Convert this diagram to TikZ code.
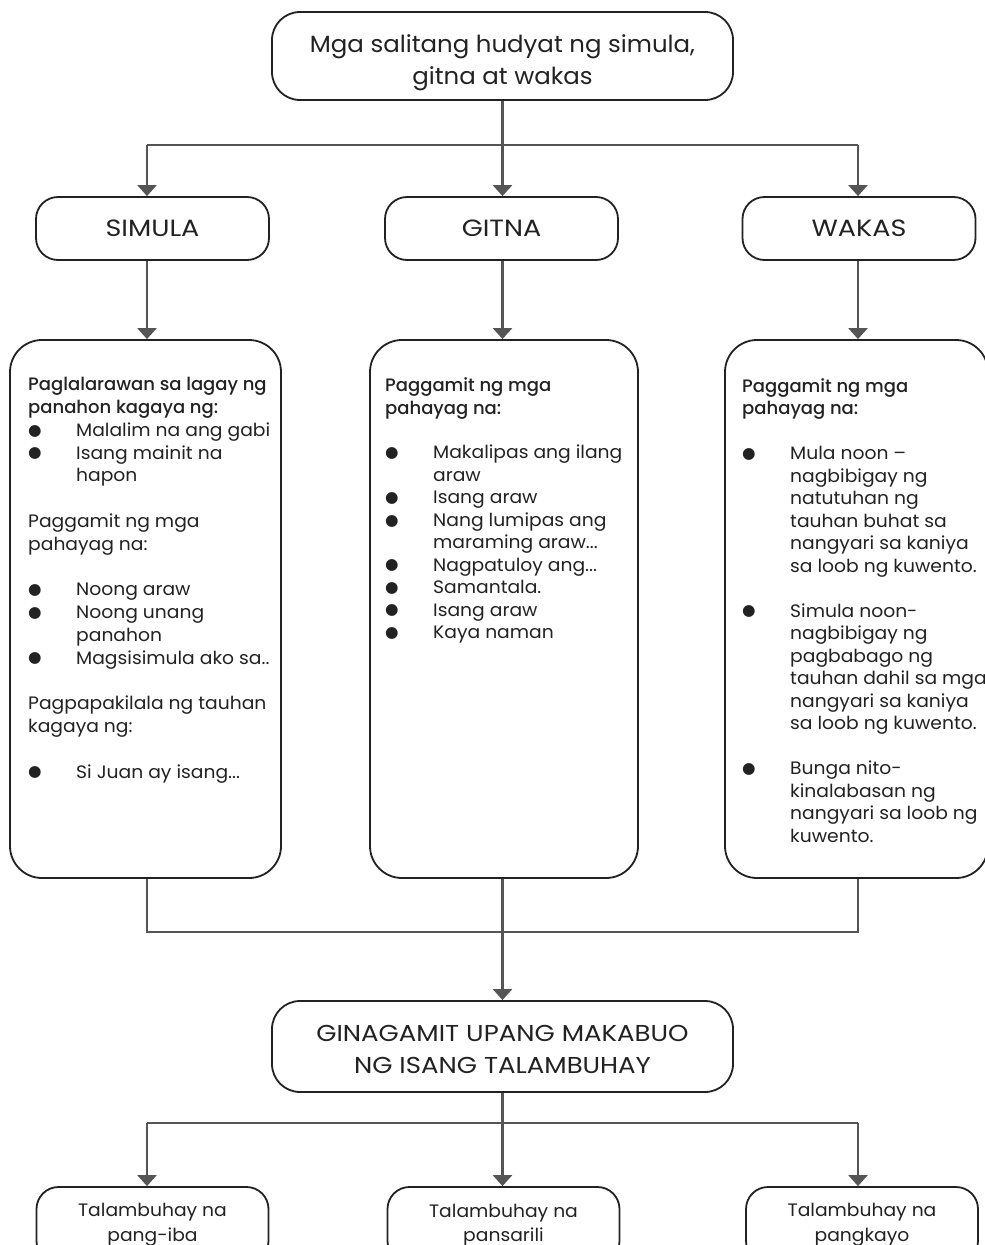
\documentclass[tikz,border=0pt]{standalone}
\usepackage{fontspec}
\setmainfont{Poppins}[FakeStretch=1.04]
\newfontfamily\medfont{Poppins Medium}[FakeStretch=1.0]
\newfontfamily\capfont{Poppins}[FakeStretch=1.15]
\newfontfamily\bulfont{DejaVu Sans}
\usetikzlibrary{arrows.meta}
\definecolor{linec}{HTML}{555555}
\definecolor{ink}{HTML}{222222}
\newcommand\bl{\makebox[48pt][l]{\raisebox{1.2pt}{\bulfont\fontsize{15.5}{15}\selectfont ●}}}
\newcommand\ind{\hspace*{48pt}}
\tikzset{
  box/.style={draw=ink, line width=1.8pt, rounded corners=#1, align=center, text=ink, inner sep=0pt},
  box/.default=22pt,
  conn/.style={draw=linec, line width=2.5pt},
  arr/.style={conn, -{Triangle[width=19pt,length=11pt]}},
  body/.style={anchor=base west, align=left, inner sep=0pt, text=ink},
  title/.style={anchor=base, align=center, inner sep=0pt, text=ink}
}
\begin{document}
\begin{tikzpicture}[x=1pt,y=-1pt]
\useasboundingbox[fill=white] (0,0) rectangle (985,1245);
\clip (0,0) rectangle (985,1245);
% top
\node[box=28pt, minimum width=461pt, minimum height=88pt] (top) at (502.5,56) {};
\node[title, font=\fontsize{23.5}{31.5}\selectfont] (toptext) at (502.5,84) {Mga salitang hudyat ng simula,\\gitna at wakas};
\node[box, minimum width=233pt, minimum height=63pt, font=\capfont\fontsize{23.5}{24}\selectfont] (sim) at (152.5,228.5) {SIMULA};
\node[box, minimum width=233pt, minimum height=63pt, font=\capfont\fontsize{23.5}{24}\selectfont] (git) at (501.5,228.5) {GITNA};
\node[box, minimum width=233pt, minimum height=63pt, font=\capfont\fontsize{23.5}{24}\selectfont] (wak) at (859,228.5) {WAKAS};
% big boxes
\node[box=32pt, minimum width=271pt, minimum height=538pt] (lb) at (145.5,609) {};
\node[box=32pt, minimum width=268pt, minimum height=538pt] (mb) at (504,609) {};
\node[box=32pt, minimum width=263pt, minimum height=538pt] (rb) at (856.5,609) {};
% gin box
\node[box=28pt, minimum width=461pt, minimum height=91pt] (gin) at (502.5,1046.5) {};
\node[title, font=\fontsize{23}{32}\selectfont\addfontfeature{FakeStretch=1.13}] (gintext) at (502.5,1073) {GINAGAMIT UPANG MAKABUO\\NG ISANG TALAMBUHAY};
% bottom boxes
\node[box, minimum width=232pt, minimum height=76pt, font=\fontsize{18}{24.5}\selectfont] (b1) at (152.5,1225) {Talambuhay na\\pang-iba};
\node[box, minimum width=232pt, minimum height=76pt, font=\fontsize{18}{24.5}\selectfont] (b2) at (503.5,1225) {Talambuhay na\\pansarili};
\node[box, minimum width=232pt, minimum height=76pt, font=\fontsize{18}{24.5}\selectfont] (b3) at (862,1225) {Talambuhay na\\pangkayo};
% texts
\node[body, font=\fontsize{18}{22.78}\selectfont] (lt) at (28,778) {{\medfont Paglalarawan sa lagay ng}\\
{\medfont panahon kagaya ng:}\\
\bl Malalim na ang gabi\\
\bl Isang mainit na\\
\ind hapon\\[22.78pt]
Paggamit ng mga\\
pahayag na:\\[22.78pt]
\bl Noong araw\\
\bl Noong unang\\
\ind panahon\\
\bl Magsisimula ako sa..\\[22.78pt]
Pagpapakilala ng tauhan\\
kagaya ng:\\[22.78pt]
\bl Si Juan ay isang...};
\node[body, font=\fontsize{18}{22.45}\selectfont] (mt) at (385,638.5) {{\medfont Paggamit ng mga}\\
{\medfont pahayag na:}\\[22.45pt]
\bl Makalipas ang ilang\\
\ind araw\\
\bl Isang araw\\
\bl Nang lumipas ang\\
\ind maraming araw...\\
\bl Nagpatuloy ang...\\
\bl Samantala.\\
\bl Isang araw\\
\bl Kaya naman};
\node[body, font=\fontsize{18}{22.5}\selectfont] (rt) at (742,842) {{\medfont Paggamit ng mga}\\
{\medfont pahayag na:}\\[22.5pt]
\bl Mula noon --\\
\ind nagbibigay ng\\
\ind natutuhan ng\\
\ind tauhan buhat sa\\
\ind nangyari sa kaniya\\
\ind sa loob ng kuwento.\\[22.5pt]
\bl Simula noon-\\
\ind nagbibigay ng\\
\ind pagbabago ng\\
\ind tauhan dahil sa mga\\
\ind nangyari sa kaniya\\
\ind sa loob ng kuwento.\\[22.5pt]
\bl Bunga nito-\\
\ind kinalabasan ng\\
\ind nangyari sa loob ng\\
\ind kuwento.};
% connectors
\coordinate (j1) at (147,145);
\coordinate (j3) at (858,145);
\coordinate (k1) at (147,932);
\coordinate (k3) at (858,932);
\coordinate (m1) at (147,1123);
\coordinate (m3) at (858,1123);
\draw[conn] (top.south) -- (top.south |- j1);
\draw[conn] (j1) -- (j3);
\draw[arr] (j1) -- (sim.north -| j1);
\draw[arr] (top.south |- j1) -- (git.north -| top.south);
\draw[arr] (j3) -- (wak.north -| j3);
\draw[arr] (sim.south -| j1) -- (lb.north -| j1);
\draw[arr] (git.south -| top.south) -- (mb.north -| top.south);
\draw[arr] (wak.south -| j3) -- (rb.north -| j3);
\draw[conn] (lb.south -| k1) -- (k1) -- (k3) -- (rb.south -| k3);
\draw[conn] (mb.south -| top.south) -- (top.south |- k1);
\draw[arr] (top.south |- k1) -- (gin.north);
\draw[conn] (gin.south) -- (gin.south |- m1);
\draw[conn] (m1) -- (m3);
\draw[arr] (m1) -- (b1.north -| m1);
\draw[arr] (gin.south |- m1) -- (b2.north -| gin.south);
\draw[arr] (m3) -- (b3.north -| m3);
\end{tikzpicture}
\end{document}
